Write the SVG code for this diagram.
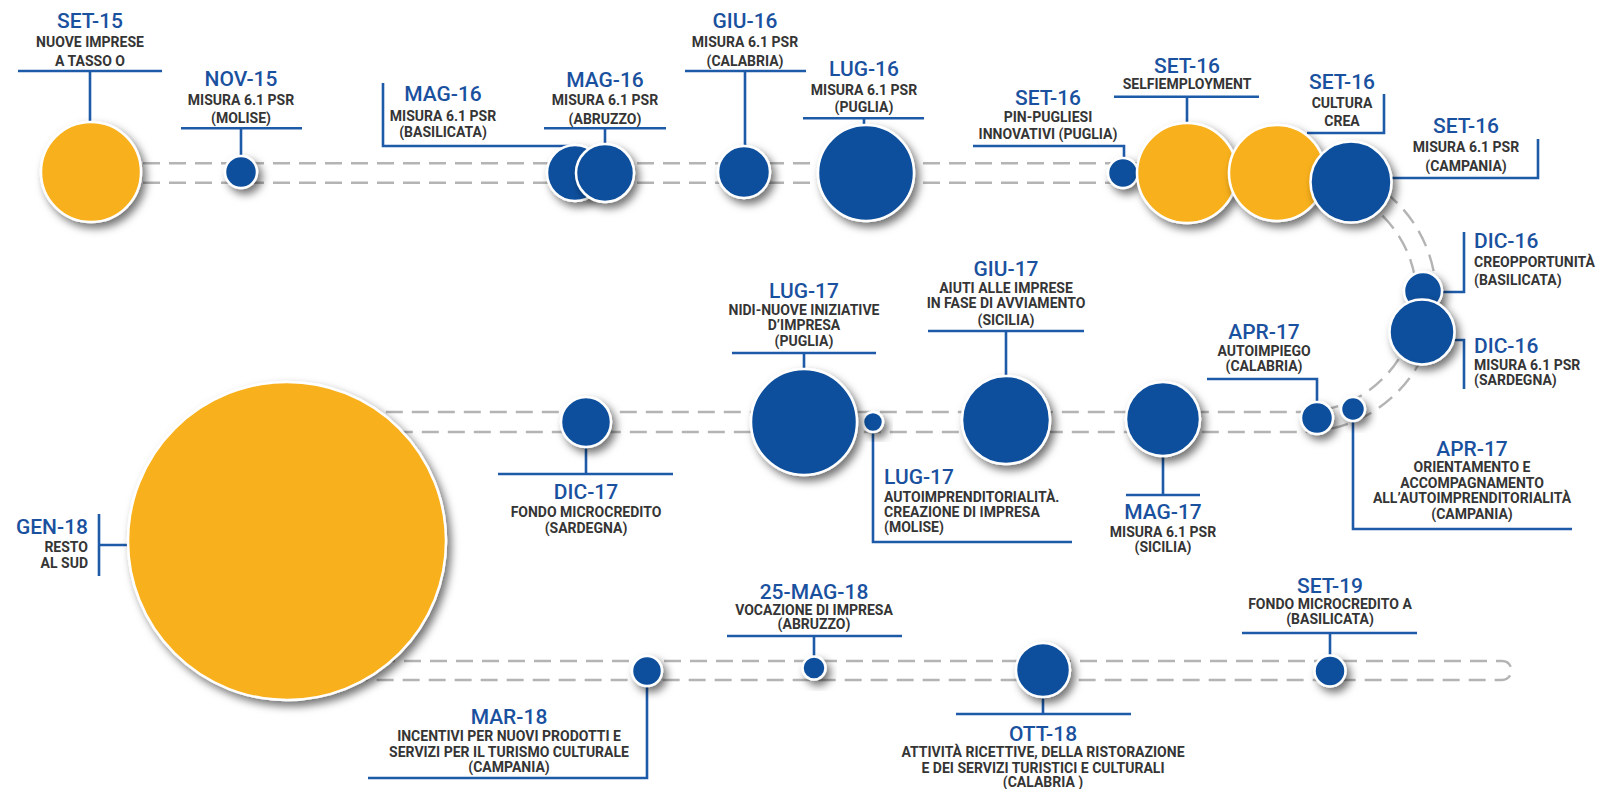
<svg xmlns="http://www.w3.org/2000/svg" width="1602" height="789" viewBox="0 0 1602 789">
<defs>
<filter id="sh" x="-40%" y="-40%" width="190%" height="190%">
<feDropShadow dx="4" dy="5" stdDeviation="4" flood-color="#000" flood-opacity="0.55"/>
</filter>
<style>
.d{font-family:Roboto,"Liberation Sans",sans-serif;font-weight:500;font-size:21px;fill:#1a519f;text-anchor:middle}
.c{font-family:Roboto,"Liberation Sans",sans-serif;font-weight:700;font-size:14px;fill:#353535;text-anchor:middle}
.st{text-anchor:start}
.en{text-anchor:end}
.ld{fill:none;stroke:#1d5aa8;stroke-width:2.6}
.b{fill:#0d4f9d;stroke:#fff;stroke-width:2.5;filter:url(#sh)}
.o{fill:#f8b01b;stroke:#fff;stroke-width:2.5;filter:url(#sh)}
.trk{fill:none;stroke:#b4b4b4;stroke-width:2.4;stroke-dasharray:17 9}
</style>
</defs>
<rect width="1602" height="789" fill="#fff"/>
<g id="connectors">
<path class="trk" d="M91 163.3 H1302 A134.35 134.35 0 0 1 1302 432 H300"/>
<path class="trk" d="M91 182.7 H1302 A114.65 114.65 0 0 1 1302 412 H300"/>
<path class="trk" d="M300 661 H1502 A9.5 9.5 0 0 1 1502 680 H300"/>
</g>
<g id="set15">
<path class="ld" d="M18 71 H162 M90 71 V122"/>
<circle class="o" cx="91" cy="172" r="50"/>
<text class="d" x="90" y="28">SET-15</text>
<text class="c" x="90" y="46.5">NUOVE IMPRESE</text>
<text class="c" x="90" y="66">A TASSO O</text>
</g>
<g id="nov15">
<path class="ld" d="M181 128.3 H302 M241 128.3 V156"/>
<circle class="b" cx="241" cy="172" r="16"/>
<text class="d" x="241" y="85.5">NOV-15</text>
<text class="c" x="241" y="104.5">MISURA 6.1 PSR</text>
<text class="c" x="241" y="122.5">(MOLISE)</text>
</g>
<g id="mag16-basilicata">
<path class="ld" d="M383 83 V146 H572"/>
<circle class="b" cx="575" cy="173" r="28"/>
<text class="d" x="443" y="100.5">MAG-16</text>
<text class="c" x="443" y="120.5">MISURA 6.1 PSR</text>
<text class="c" x="443" y="137">(BASILICATA)</text>
</g>
<g id="mag16-abruzzo">
<path class="ld" d="M544 128.3 H666 M605 128.3 V144"/>
<circle class="b" cx="605" cy="173" r="29"/>
<text class="d" x="605" y="86.5">MAG-16</text>
<text class="c" x="605" y="104.5">MISURA 6.1 PSR</text>
<text class="c" x="605" y="123.5">(ABRUZZO)</text>
</g>
<g id="giu16">
<path class="ld" d="M685 71 H806 M745 71 V146"/>
<circle class="b" cx="744" cy="172" r="26"/>
<text class="d" x="745" y="28">GIU-16</text>
<text class="c" x="745" y="47">MISURA 6.1 PSR</text>
<text class="c" x="745" y="65.5">(CALABRIA)</text>
</g>
<g id="lug16">
<path class="ld" d="M803 118.3 H924 M864 118.3 V125"/>
<circle class="b" cx="866" cy="173" r="48"/>
<text class="d" x="864" y="75.5">LUG-16</text>
<text class="c" x="864" y="94.8">MISURA 6.1 PSR</text>
<text class="c" x="864" y="112">(PUGLIA)</text>
</g>
<g id="set16-pin">
<path class="ld" d="M973 146 H1124 V158"/>
<circle class="b" cx="1123" cy="173" r="15"/>
<text class="d" x="1048" y="104.5">SET-16</text>
<text class="c" x="1048" y="122">PIN-PUGLIESI</text>
<text class="c" x="1048" y="138.5">INNOVATIVI (PUGLIA)</text>
</g>
<g id="set16-selfiemployment">
<path class="ld" d="M1114 96.7 H1259 M1187 96.7 V123"/>
<circle class="o" cx="1187" cy="173" r="50"/>
<text class="d" x="1187" y="73">SET-16</text>
<text class="c" x="1187" y="89">SELFIEMPLOYMENT</text>
</g>
<g id="set16-cultura">
<path class="ld" d="M1384 94 V133 H1307"/>
<circle class="o" cx="1277" cy="173" r="48"/>
<text class="d" x="1342" y="89">SET-16</text>
<text class="c" x="1342" y="108">CULTURA</text>
<text class="c" x="1342" y="126">CREA</text>
</g>
<g id="set16-campania">
<path class="ld" d="M1538 139 V178 H1391"/>
<circle class="b" cx="1351" cy="182" r="40.5"/>
<text class="d" x="1466" y="133">SET-16</text>
<text class="c" x="1466" y="152">MISURA 6.1 PSR</text>
<text class="c" x="1466" y="171">(CAMPANIA)</text>
</g>
<g id="dic16-creopportunita">
<path class="ld" d="M1464 232 V292 H1442"/>
<circle class="b" cx="1423" cy="291" r="19"/>
<text class="d st" x="1474" y="248">DIC-16</text>
<text class="c st" x="1474" y="267">CREOPPORTUNITÀ</text>
<text class="c st" x="1474" y="284.5">(BASILICATA)</text>
</g>
<g id="dic16-sardegna">
<path class="ld" d="M1464 389 V340 H1452"/>
<circle class="b" cx="1422" cy="332" r="32.5"/>
<text class="d st" x="1474" y="353">DIC-16</text>
<text class="c st" x="1474" y="369.5">MISURA 6.1 PSR</text>
<text class="c st" x="1474" y="384.5">(SARDEGNA)</text>
</g>
<g id="apr17-autoimpiego">
<path class="ld" d="M1207 379 H1317 V402"/>
<circle class="b" cx="1317" cy="418" r="16"/>
<text class="d" x="1264" y="339">APR-17</text>
<text class="c" x="1264" y="355.5">AUTOIMPIEGO</text>
<text class="c" x="1264" y="370.5">(CALABRIA)</text>
</g>
<g id="apr17-orientamento">
<path class="ld" d="M1353 421 V529 H1572"/>
<circle class="b" cx="1353" cy="409" r="12"/>
<text class="d" x="1472" y="455.5">APR-17</text>
<text class="c" x="1472" y="472">ORIENTAMENTO E</text>
<text class="c" x="1472" y="487.5">ACCOMPAGNAMENTO</text>
<text class="c" x="1472" y="503">ALL’AUTOIMPRENDITORIALITÀ</text>
<text class="c" x="1472" y="518.5">(CAMPANIA)</text>
</g>
<g id="mag17">
<path class="ld" d="M1163 456 V495 M1126 495 H1200"/>
<circle class="b" cx="1163" cy="419" r="37"/>
<text class="d" x="1163" y="519">MAG-17</text>
<text class="c" x="1163" y="537">MISURA 6.1 PSR</text>
<text class="c" x="1163" y="552">(SICILIA)</text>
</g>
<g id="giu17">
<path class="ld" d="M928 331 H1084 M1006 331 V376"/>
<circle class="b" cx="1006" cy="420" r="44"/>
<text class="d" x="1006" y="276">GIU-17</text>
<text class="c" x="1006" y="293">AIUTI ALLE IMPRESE</text>
<text class="c" x="1006" y="308">IN FASE DI AVVIAMENTO</text>
<text class="c" x="1006" y="324.5">(SICILIA)</text>
</g>
<g id="lug17-autoimprenditorialita">
<path class="ld" d="M873 432 V542 H1072"/>
<circle class="b" cx="873" cy="422" r="10"/>
<text class="d st" x="884" y="484">LUG-17</text>
<text class="c st" x="884" y="501.5">AUTOIMPRENDITORIALITÀ.</text>
<text class="c st" x="884" y="517">CREAZIONE DI IMPRESA</text>
<text class="c st" x="884" y="532">(MOLISE)</text>
</g>
<g id="lug17-nidi">
<path class="ld" d="M732 353 H876 M804 353 V369"/>
<circle class="b" cx="804" cy="422" r="53"/>
<text class="d" x="804" y="297.5">LUG-17</text>
<text class="c" x="804" y="314.5">NIDI-NUOVE INIZIATIVE</text>
<text class="c" x="804" y="330">D’IMPRESA</text>
<text class="c" x="804" y="345.5">(PUGLIA)</text>
</g>
<g id="dic17">
<path class="ld" d="M586 447 V474 M498 474 H673"/>
<circle class="b" cx="586" cy="422" r="25"/>
<text class="d" x="586" y="499">DIC-17</text>
<text class="c" x="586" y="517">FONDO MICROCREDITO</text>
<text class="c" x="586" y="533">(SARDEGNA)</text>
</g>
<g id="gen18">
<path class="ld" d="M99 514 V576 M99 545 H127"/>
<circle class="o" cx="287" cy="541" r="159"/>
<text class="d en" x="88" y="534">GEN-18</text>
<text class="c en" x="88" y="552">RESTO</text>
<text class="c en" x="88" y="568">AL SUD</text>
</g>
<g id="mar18">
<path class="ld" d="M647 686 V778 H368"/>
<circle class="b" cx="647" cy="671" r="15"/>
<text class="d" x="509" y="724">MAR-18</text>
<text class="c" x="509" y="741">INCENTIVI PER NUOVI PRODOTTI E</text>
<text class="c" x="509" y="756.5">SERVIZI PER IL TURISMO CULTURALE</text>
<text class="c" x="509" y="771.5">(CAMPANIA)</text>
</g>
<g id="mag18">
<path class="ld" d="M727 636 H902 M814 636 V656"/>
<circle class="b" cx="814" cy="668" r="11.5"/>
<text class="d" x="814" y="599">25-MAG-18</text>
<text class="c" x="814" y="614.5">VOCAZIONE DI IMPRESA</text>
<text class="c" x="814" y="629">(ABRUZZO)</text>
</g>
<g id="ott18">
<path class="ld" d="M1043 697 V714 M956 714 H1131"/>
<circle class="b" cx="1043" cy="670" r="27"/>
<text class="d" x="1043" y="740.5">OTT-18</text>
<text class="c" x="1043" y="757">ATTIVITÀ RICETTIVE, DELLA RISTORAZIONE</text>
<text class="c" x="1043" y="772.5">E DEI SERVIZI TURISTICI E CULTURALI</text>
<text class="c" x="1043" y="787">(CALABRIA )</text>
</g>
<g id="set19">
<path class="ld" d="M1242 633 H1417 M1330 633 V656"/>
<circle class="b" cx="1330" cy="671" r="15.5"/>
<text class="d" x="1330" y="592.5">SET-19</text>
<text class="c" x="1330" y="608.5">FONDO MICROCREDITO A</text>
<text class="c" x="1330" y="623.5">(BASILICATA)</text>
</g>
</svg>
